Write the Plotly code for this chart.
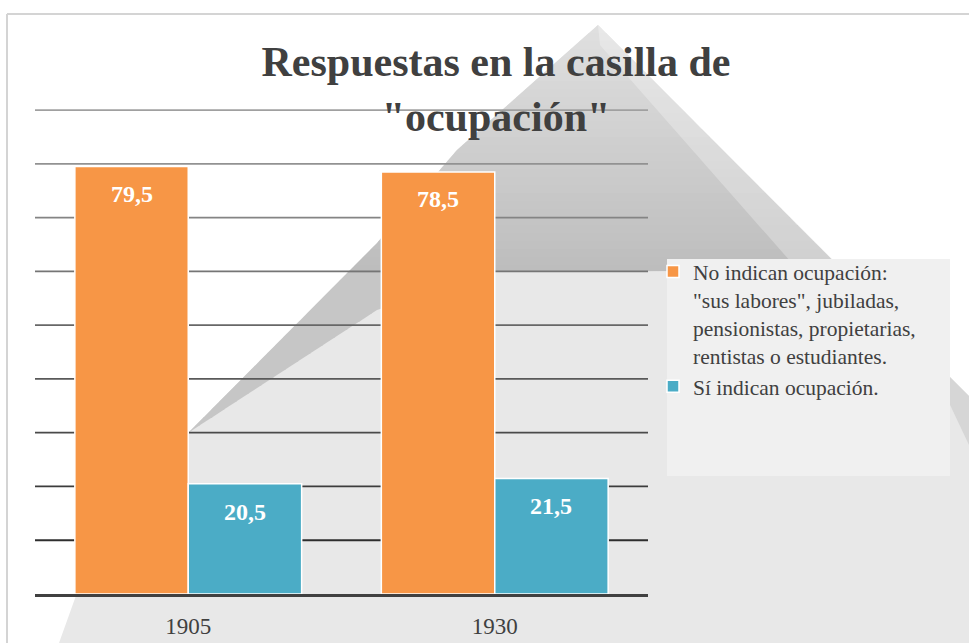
import plotly.graph_objects as go

# ---- data ----
years = ["1905", "1930"]
no_indican = [79.5, 78.5]
si_indican = [20.5, 21.5]
grid_values = [10, 20, 30, 40, 50, 60, 70, 80, 90]
series_names = [
    'No indican ocupación:<br>"sus labores", jubiladas,<br>pensionistas, propietarias,<br>rentistas o estudiantes.',
    'Sí indican ocupación.',
]
title_text = 'Respuestas en la casilla de<br>"ocupación"'

W, H = 969, 643
def P(x, y):
    return x / W, 1 - y / H

def path(points):
    pts = [P(x, y) for x, y in points]
    return "M " + " L ".join(f"{a:.4f},{b:.4f}" for a, b in pts) + " Z"

def clip_y(poly, ylo, yhi):
    """Clip polygon (pixel coords) to the horizontal strip ylo <= y <= yhi."""
    def clip(pts, inside, inter):
        out = []
        n = len(pts)
        for i in range(n):
            cur, prev = pts[i], pts[i - 1]
            if inside(cur):
                if not inside(prev):
                    out.append(inter(prev, cur))
                out.append(cur)
            elif inside(prev):
                out.append(inter(prev, cur))
        return out
    def at(yv):
        def f(a, b):
            t = (yv - a[1]) / (b[1] - a[1])
            return (a[0] + (b[0] - a[0]) * t, yv)
        return f
    pts = clip(poly, lambda p: p[1] >= ylo, at(ylo))
    if pts:
        pts = clip(pts, lambda p: p[1] <= yhi, at(yhi))
    return pts

def mix(c1, c2, t):
    t = max(0.0, min(1.0, t))
    a = [int(c1[i:i + 2], 16) for i in (1, 3, 5)]
    b = [int(c2[i:i + 2], 16) for i in (1, 3, 5)]
    return "#" + "".join(f"{round(a[k] + (b[k] - a[k]) * t):02x}" for k in range(3))

SERIF = "Liberation Serif, Times New Roman, serif"
ORANGE = "#F79646"
BLUE = "#4BACC6"
TXT = "#404040"

BW = 0.37  # bar width in category units
fig = go.Figure()
fig.add_trace(go.Bar(
    x=years, y=no_indican, name=series_names[0],
    marker=dict(color=ORANGE, line=dict(color="white", width=1.5)),
    width=BW, offset=-BW,
))
fig.add_trace(go.Bar(
    x=years, y=si_indican, name=series_names[1],
    marker=dict(color=BLUE, line=dict(color="white", width=1.5)),
    width=BW, offset=0,
))

lab_font = dict(family=SERIF, size=24, color="white", weight="bold")
annotations = []
for i, v in enumerate(no_indican):
    annotations.append(dict(x=i - BW / 2, y=v, text=f"{v:.1f}".replace(".", ","),
                            showarrow=False, yanchor="middle", yshift=-27, font=lab_font))
for i, v in enumerate(si_indican):
    annotations.append(dict(x=i + BW / 2, y=v, text=f"{v:.1f}".replace(".", ","),
                            showarrow=False, yanchor="middle", yshift=-28, font=lab_font))

shapes = [
    # light pyramid base
    dict(type="path", xref="paper", yref="paper", layer="below", line=dict(width=0),
         fillcolor="#e8e8e8",
         path=path([(598, 25), (969, 396), (969, 643), (59, 643), (78, 590),
                    (188, 433), (377, 243), (457, 150)])),
]

# darker upper face, drawn as a vertical gradient of thin strips
dark_face = [(598, 25), (842, 270), (495, 272), (377, 310), (188, 433),
             (377, 243), (457, 150)]
y = 25
step = 8
while y < 433:
    pts = clip_y(dark_face, y, y + step + 0.6)
    if len(pts) >= 3:
        col = mix("#e0e0e0", "#bdbdbd", (y + step / 2 - 25) / 245)
        if y >= 272:
            col = "#c6c6c6"
        shapes.append(dict(type="path", xref="paper", yref="paper", layer="below",
                           line=dict(width=0), fillcolor=col, path=path(pts)))
    y += step

shapes += [
    # lighter strip along the right edge of the pyramid
    dict(type="path", xref="paper", yref="paper", layer="below", line=dict(width=0),
         fillcolor="rgba(255,255,255,0.28)",
         path=path([(598, 25), (842, 270), (798, 270), (600, 45)])),
    # lower right shading near the edge
    dict(type="path", xref="paper", yref="paper", layer="below", line=dict(width=0),
         fillcolor="#d6d6d6",
         path=path([(925, 352), (969, 396), (969, 445)])),
    # legend background
    dict(type="rect", xref="paper", yref="paper", layer="below", line=dict(width=0),
         fillcolor="#f0f0f0",
         x0=P(667, 0)[0], x1=P(950, 0)[0], y0=P(0, 476)[1], y1=P(0, 259)[1]),
    # chart border (top and left)
    dict(type="line", xref="paper", yref="paper", layer="above",
         line=dict(color="#d4d4d4", width=2),
         x0=P(7, 0)[0], x1=1, y0=P(0, 14)[1], y1=P(0, 14)[1]),
    dict(type="line", xref="paper", yref="paper", layer="above",
         line=dict(color="#d4d4d4", width=2),
         x0=P(7, 0)[0], x1=P(7, 0)[0], y0=0, y1=P(0, 14)[1]),
]

# gridlines: lighter towards the top, darker towards the bottom
top_v = max(grid_values)
for g in grid_values:
    t = (g - min(grid_values)) / (top_v - min(grid_values))
    shapes.append(dict(type="line", xref="x domain", yref="y", layer="below",
                       x0=0, x1=1, y0=g, y1=g,
                       line=dict(color=mix("#2e2e2e", "#a0a0a0", t), width=1.8)))

fig.update_layout(
    width=W, height=H,
    margin=dict(l=0, r=0, t=0, b=0),
    paper_bgcolor="white",
    plot_bgcolor="rgba(0,0,0,0)",
    separators=",.",
    barmode="group",
    title=dict(text=title_text, x=496 / W, xanchor="center", xref="paper",
               y=1 - 76 / H, yanchor="middle", yref="container",
               font=dict(family=SERIF, size=42, color=TXT, weight="bold")),
    xaxis=dict(domain=[35 / W, 648 / W], type="category",
               showline=True, linecolor="#404040", linewidth=3,
               ticks="outside", ticklen=9, tickcolor="rgba(0,0,0,0)",
               tickfont=dict(family=SERIF, size=23, color=TXT),
               showgrid=False, zeroline=False),
    yaxis=dict(domain=[1 - 594 / H, 1 - 109 / H], range=[0, 90.2],
               showticklabels=False, showgrid=False,
               zeroline=False, showline=False),
    legend=dict(x=653 / W, y=1 - 251 / H, xanchor="left", yanchor="top",
                bgcolor="rgba(0,0,0,0)", valign="top",
                font=dict(family=SERIF, size=21.5, color=TXT),
                itemclick=False),
    annotations=annotations,
    shapes=shapes,
    showlegend=True,
)

fig.write_html("out.html", post_script="document.body.style.margin='0';",
               config={"displayModeBar": False})
